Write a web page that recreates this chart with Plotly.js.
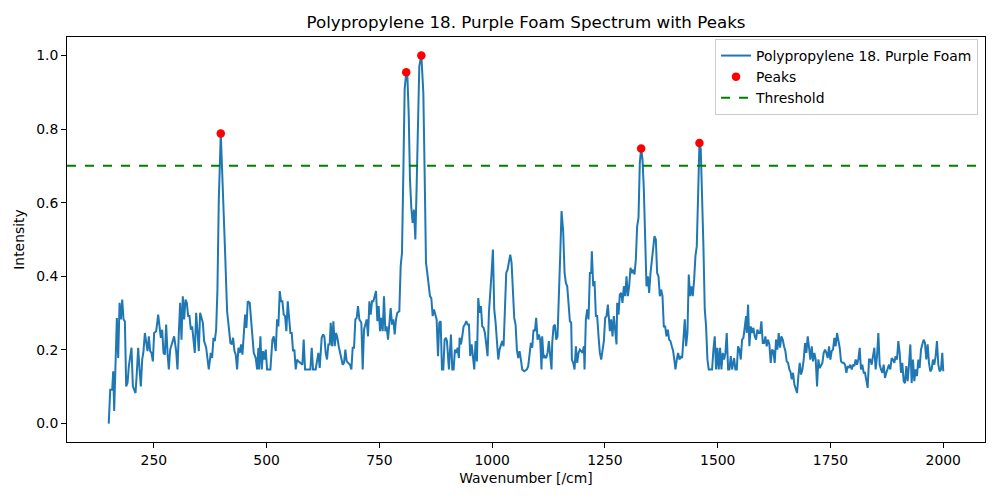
<!DOCTYPE html>
<html>
<head>
<meta charset="utf-8">
<script src="https://cdn.plot.ly/plotly-3.0.1.min.js"></script>
<style>html,body{margin:0;padding:0;background:#fff;}#chart{width:1000px;height:500px;}</style>
</head>
<body>
<div id="chart"></div>
<script>
const seriesName = "Polypropylene 18. Purple Foam";
const chartTitle = "Polypropylene 18. Purple Foam Spectrum with Peaks";
const threshold = 0.7;

const wavenumber = [
150,153.3,157.7,159.9,162.1,165.1,168.0,171.0,174.0,176.9,179.9,182.8,185.8,188.7,191.7,194.6,200.5,203.5,209.4,212.3,
215.3,218.3,221.2,224.2,227.1,230.1,233.0,236.0,238.9,241.9,244.8,247.8,250.7,255.2,259.6,262.6,265.5,268.5,271.4,274.4,
277.3,280.3,283.2,286.2,292.1,295.0,299.5,302.4,305.4,308.3,311.3,314.2,317.2,320.2,323.1,326.1,329.0,332.0,334.9,337.9,
340.8,343.8,346.7,349.7,352.6,355.6,358.6,361.5,366.0,371.8,376.3,379.2,382.2,385.1,388.1,391.0,394.0,
398.4,403.5,408.0,412.4,416.9,419.8,422.8,425.7,428.7,431.6,434.6,437.5,440.5,443.4,446.4,449.3,452.3,455.2,458.2,462.6,
465.6,468.5,471.5,475.9,478.9,481.8,483.3,486.2,489.2,492.2,495.1,498.1,501.0,508.4,512.8,515.8,520.2,523.2,526.1,529.1,
532.0,535.0,537.9,540.9,543.8,546.8,549.8,552.7,555.7,558.6,561.6,564.5,567.5,570.4,574.9,579.3,582.2,585.2,591.1,597.0,
600.0,602.9,608.8,611.8,614.7,617.7,622.1,625.1,628.0,631.0,633.9,636.9,639.8,
642.1,645.1,648.0,651.0,653.9,656.9,659.8,664.3,668.7,671.6,674.6,677.5,682.0,684.9,687.9,690.8,693.8,696.7,699.7,702.6,
705.6,710.0,713.0,715.9,718.9,721.8,724.8,727.8,730.7,733.7,736.6,739.6,742.5,745.5,748.4,751.4,754.3,757.3,760.2,763.2,
766.1,769.1,772.1,775.0,778.0,780.9,783.9,786.8,789.8,794.2,797.2,800.1,803.1,806.0,809.5,811.9,814.9,817.8,820.8,823.7,
826.7,829.7,832.6,835.6,838.5,843.0,847.4,850.3,853.3,856.2,859.2,862.1,865.1,868.1,871.0,874.0,876.9,879.9,882.8,885.8,
888.7,891.7,894.6,897.6,
899.8,904.2,908.6,911.6,914.5,917.5,920.4,923.4,926.3,927.8,930.8,933.7,936.7,939.6,942.6,945.5,948.5,951.4,954.4,957.3,
960.3,963.3,966.2,969.2,972.1,975.1,978.0,981.0,983.9,986.9,989.8,992.8,995.7,998.7,1001.7,1004.6,1007.6,1010.5,1013.5,1016.4,
1019.4,1022.3,1025.3,1028.2,1031.2,1034.1,1037.1,1040.1,1043.0,1046.0,1048.9,1051.9,1054.8,1057.8,1060.7,1063.7,1066.6,1071.1,1077.0,1079.9,
1082.9,1085.8,1088.8,1091.7,1094.7,1097.6,1100.6,1103.5,1106.5,1109.4,1110.9,1113.9,1116.8,1119.8,1122.7,1125.7,1128.7,1131.6,1133.1,1136.1,
1139.0,1142.0,1144.9,1147.9,1150.8,1153.8,
1157.5,1160.5,1163.4,1166.4,1169.3,1172.3,1175.2,1176.7,1179.7,1182.6,1185.6,1188.5,1191.5,1194.4,1197.4,1200.3,1203.3,1204.8,1207.7,1210.7,
1213.6,1216.6,1219.5,1221.0,1224.0,1226.9,1229.9,1232.8,1235.8,1238.7,1241.7,1244.6,1247.6,1250.5,1253.5,1256.5,1259.4,1260.9,1263.8,1266.8,
1269.7,1272.7,1275.7,1277.1,1280.1,1283.0,1286.0,1288.9,1291.9,1294.9,1297.8,1300.8,1303.7,1306.7,1309.6,1312.6,1315.5,1318.5,1321.4,1324.4,
1327.3,1330.3,1333.3,1336.2,1339.2,1342.1,1345.1,1348.0,1351.0,1353.9,1356.9,1359.8,1362.8,1365.7,1368.7,1371.7,1374.6,1377.6,1380.5,1383.5,
1386.4,1389.4,1392.3,1395.3,1398.2,1401.2,1404.2,
1406.3,1409.3,1412.2,1415.2,1418.1,1421.1,1424.0,1427.0,1429.9,1432.9,1435.8,1438.8,1441.7,1444.7,1447.7,1450.6,1453.6,1456.5,1459.5,1462.4,
1465.4,1468.3,1471.3,1474.2,1477.2,1480.1,1484.6,1487.5,1490.5,1493.4,1496.4,1499.3,1502.3,1505.3,1508.2,1511.2,1514.1,1517.1,1520.0,1523.0,
1525.9,1528.9,1531.8,1536.3,1539.2,1542.2,1545.1,1548.1,1551.1,1554.0,1557.0,1559.9,1562.9,1564.3,1567.3,1570.2,1573.2,1576.1,1579.1,1582.0,
1585.0,1587.9,1590.9,1593.9,1596.8,1599.8,1602.7,1605.7,1608.6,1611.6,1614.5,1617.5,1620.4,1623.4,1626.3,1629.3,1632.3,1635.2,1638.2,1641.1,
1644.1,1647.0,1650.0,1652.9,1655.9,1658.8,
1661.5,1664.1,1667.0,1670.0,1672.9,1675.9,1678.8,1681.8,1684.7,1687.7,1690.6,1693.6,1696.5,1699.5,1702.5,1705.4,1708.4,1711.3,1714.3,1717.2,
1720.2,1723.1,1726.1,1729.0,1732.0,1734.9,1737.9,1740.9,1743.8,1746.8,1749.7,1752.7,1755.6,1758.6,1761.5,1764.5,1767.4,1770.4,1773.3,1776.3,
1779.2,1782.2,1785.2,1788.1,1791.1,1794.0,1797.0,1799.9,1802.9,1805.8,1808.8,1811.7,1814.7,1817.6,1820.6,1823.6,1826.5,1829.5,1832.4,1835.4,
1838.3,1841.3,1844.2,1847.2,1850.1,1853.1,1856.1,1859.0,1862.0,1864.9,1867.9,1870.8,1873.8,1876.7,1879.7,1882.6,1885.6,1888.5,1891.5,1894.5,
1897.4,1900.4,1903.3,1906.3,1909.2,1912.2,1915.1,1918.1,1921.0,1924.0,1927.0,1929.9,1932.9,1935.8,1938.8,1941.7,1944.7,1947.6,1950.6,1953.5,
1956.5,1959.4,1962.4,1965.4,1968.3,1971.3,1974.2,1977.2,1980.1,1983.1,1986.0,1989.0,1991.9,1994.9,1997.8,2000.0
];

const intensity = [
0.000,0.092,0.092,0.142,0.034,0.138,0.287,0.178,0.328,0.283,0.337,0.283,0.278,0.101,0.111,0.156,0.206,0.101,0.083,0.138,
0.206,0.147,0.101,0.174,0.197,0.246,0.224,0.197,0.237,0.197,0.192,0.169,0.246,0.251,0.296,0.255,0.233,0.255,0.192,0.187,
0.269,0.192,0.147,0.201,0.224,0.237,0.197,0.147,0.246,0.328,0.228,0.346,0.283,0.337,0.328,0.292,0.292,0.255,0.264,0.228,
0.192,0.301,0.255,0.197,0.301,0.283,0.274,0.224,0.206,0.147,0.192,0.178,0.233,0.224,0.255,0.364,0.609,
0.788,0.636,0.464,0.305,0.255,0.219,0.215,0.233,0.197,0.187,0.147,0.206,0.192,0.215,0.187,0.255,0.296,0.260,0.332,0.328,
0.283,0.224,0.192,0.178,0.147,0.206,0.147,0.237,0.147,0.197,0.174,0.201,0.147,0.147,0.228,0.237,0.197,0.283,0.264,0.360,
0.332,0.332,0.296,0.292,0.251,0.332,0.283,0.246,0.246,0.197,0.201,0.147,0.174,0.169,0.165,0.160,0.228,0.147,0.147,0.147,
0.206,0.147,0.147,0.165,0.192,0.151,0.233,0.242,0.237,0.192,0.174,0.215,0.215,
0.274,0.210,0.278,0.210,0.246,0.233,0.210,0.187,0.160,0.165,0.201,0.169,0.165,0.160,0.147,0.206,0.206,0.283,0.287,0.319,
0.283,0.274,0.147,0.255,0.269,0.283,0.237,0.332,0.296,0.332,0.332,0.346,0.360,0.278,0.319,0.251,0.287,0.251,0.346,0.251,
0.264,0.228,0.264,0.314,0.269,0.283,0.242,0.283,0.301,0.305,0.428,0.464,0.681,0.908,0.954,0.950,0.844,0.663,0.586,0.545,
0.581,0.500,0.645,0.817,0.971,1.000,0.899,0.681,0.437,0.409,0.373,0.346,0.341,0.292,0.310,0.292,0.283,0.183,0.274,0.278,
0.147,0.147,0.228,0.233,
0.224,0.147,0.242,0.147,0.147,0.201,0.192,0.206,0.178,0.233,0.215,0.237,0.264,0.269,0.278,0.269,0.269,0.183,0.215,0.183,
0.147,0.224,0.169,0.341,0.301,0.319,0.264,0.260,0.246,0.215,0.183,0.301,0.346,0.409,0.473,0.310,0.274,0.224,0.174,0.201,
0.210,0.224,0.210,0.328,0.409,0.418,0.437,0.459,0.437,0.355,0.287,0.269,0.201,0.178,0.197,0.174,0.147,0.142,0.147,0.156,
0.187,0.219,0.206,0.255,0.251,0.287,0.228,0.242,0.228,0.147,0.237,0.178,0.183,0.178,0.192,0.224,0.183,0.147,0.219,0.264,
0.269,0.228,0.237,0.328,0.455,0.577,
0.520,0.409,0.382,0.373,0.328,0.278,0.274,0.174,0.165,0.147,0.210,0.165,0.192,0.201,0.197,0.192,0.210,0.147,0.283,0.310,
0.283,0.409,0.409,0.468,0.373,0.387,0.292,0.292,0.237,0.192,0.174,0.201,0.224,0.287,0.292,0.323,0.283,0.251,0.283,0.237,
0.292,0.246,0.215,0.328,0.296,0.351,0.355,0.328,0.373,0.346,0.400,0.346,0.373,0.423,0.409,0.418,0.405,0.446,0.536,0.559,
0.708,0.747,0.717,0.636,0.482,0.373,0.400,0.355,0.409,0.437,0.482,0.509,0.500,0.409,0.400,0.346,0.364,0.346,0.264,0.264,
0.237,0.255,0.228,0.224,0.210,0.197,0.169,
0.147,0.174,0.192,0.174,0.183,0.178,0.246,0.283,0.210,0.246,0.405,0.346,0.373,0.346,0.391,0.455,0.482,0.645,0.762,0.745,
0.636,0.482,0.310,0.264,0.174,0.147,0.147,0.147,0.201,0.237,0.147,0.206,0.147,0.206,0.147,0.192,0.174,0.192,0.246,0.147,
0.147,0.183,0.147,0.178,0.147,0.147,0.210,0.201,0.174,0.228,0.233,0.264,0.292,0.246,0.323,0.210,0.264,0.246,0.260,0.237,
0.228,0.255,0.246,0.246,0.278,0.219,0.219,0.237,0.210,0.228,0.215,0.165,0.201,0.197,0.165,0.228,0.201,0.246,0.206,0.237,
0.228,0.210,0.197,0.169,0.165,0.147,
0.140,0.120,0.138,0.106,0.097,0.083,0.129,0.165,0.133,0.147,0.174,0.219,0.192,0.237,0.206,0.174,0.210,0.169,0.192,0.174,
0.101,0.174,0.151,0.160,0.165,0.192,0.201,0.192,0.178,0.210,0.174,0.197,0.201,0.233,0.210,0.246,0.228,0.206,0.169,0.165,
0.165,0.160,0.138,0.156,0.151,0.160,0.147,0.160,0.156,0.174,0.160,0.174,0.206,0.147,0.160,0.138,0.138,0.120,0.097,0.174,
0.174,0.160,0.183,0.206,0.147,0.183,0.246,0.160,0.147,0.138,0.160,0.124,0.138,0.147,0.160,0.147,0.178,0.174,0.165,0.183,
0.174,0.224,0.192,0.138,0.165,0.115,0.110,0.156,0.115,0.160,0.215,0.110,0.174,0.115,0.147,0.129,0.174,0.151,0.201,0.215,
0.228,0.219,0.174,0.215,0.165,0.142,0.147,0.174,0.160,0.183,0.224,0.160,0.142,0.147,0.192,0.142
];

const peakWavenumber = [398.4, 809.5, 843.0, 1330.3, 1459.5];
const peakIntensity = [0.788, 0.954, 1.000, 0.747, 0.762];

const xTicks = [250, 500, 750, 1000, 1250, 1500, 1750, 2000];
const yTicks = [0.0, 0.2, 0.4, 0.6, 0.8, 1.0];

const FONT = "DejaVu Sans, Liberation Sans, sans-serif";

// matplotlib-like 5% margins
const xMin = Math.min(...wavenumber), xMax = Math.max(...wavenumber);
const yMin = Math.min(...intensity), yMax = Math.max(...intensity);
const xPad = (xMax - xMin) * 0.05, yPad = (yMax - yMin) * 0.05;

const traces = [
  {x: wavenumber, y: intensity, type: 'scatter', mode: 'lines', name: seriesName,
   line: {color: '#1f77b4', width: 2}},
  {x: peakWavenumber, y: peakIntensity, type: 'scatter', mode: 'markers', name: 'Peaks',
   marker: {color: 'red', size: 8.5}},
  {x: [null], y: [null], type: 'scatter', mode: 'lines', name: 'Threshold',
   line: {color: 'green', width: 2, dash: 'dash'}}
];

const axisCommon = {
  showgrid: false, zeroline: false, showline: true, mirror: true,
  linecolor: 'black', linewidth: 1, ticks: 'outside', ticklen: 5, tickwidth: 1,
  tickcolor: 'black', tickfont: {family: FONT, size: 13.9, color: 'black'}
};

const layout = {
  width: 1000, height: 500,
  margin: {l: 67, r: 15, t: 37, b: 58},
  paper_bgcolor: 'white', plot_bgcolor: 'white',
  font: {family: FONT, color: 'black'},
  title: {text: chartTitle, font: {family: FONT, size: 16.7, color: 'black'},
          xref: 'paper', x: 0.5, xanchor: 'center', yref: 'container', y: 0.955, yanchor: 'middle'},
  xaxis: Object.assign({}, axisCommon, {
    range: [xMin - xPad, xMax + xPad], tickvals: xTicks, ticktext: xTicks.map(String),
    title: {text: 'Wavenumber [/cm]', font: {family: FONT, size: 13.9, color: 'black'}, standoff: 6}
  }),
  yaxis: Object.assign({}, axisCommon, {
    range: [yMin - yPad, yMax + yPad], tickvals: yTicks, ticktext: yTicks.map(v => v.toFixed(1)),
    title: {text: 'Intensity', font: {family: FONT, size: 13.9, color: 'black'}, standoff: 8}
  }),
  shapes: [{type: 'line', xref: 'paper', x0: 0, x1: 1, yref: 'y', y0: threshold, y1: threshold,
            line: {color: 'green', width: 2, dash: 'dash'}}],
  showlegend: true,
  legend: {x: 0.9924, xanchor: 'right', y: 0.995, yanchor: 'top',
           bgcolor: 'rgba(255,255,255,0.8)', bordercolor: '#cccccc', borderwidth: 1,
           font: {family: FONT, size: 13.9, color: 'black'}, itemwidth: 30, tracegroupgap: 0}
};

Plotly.newPlot('chart', traces, layout, {displayModeBar: false, staticPlot: true});
</script>
</body>
</html>
